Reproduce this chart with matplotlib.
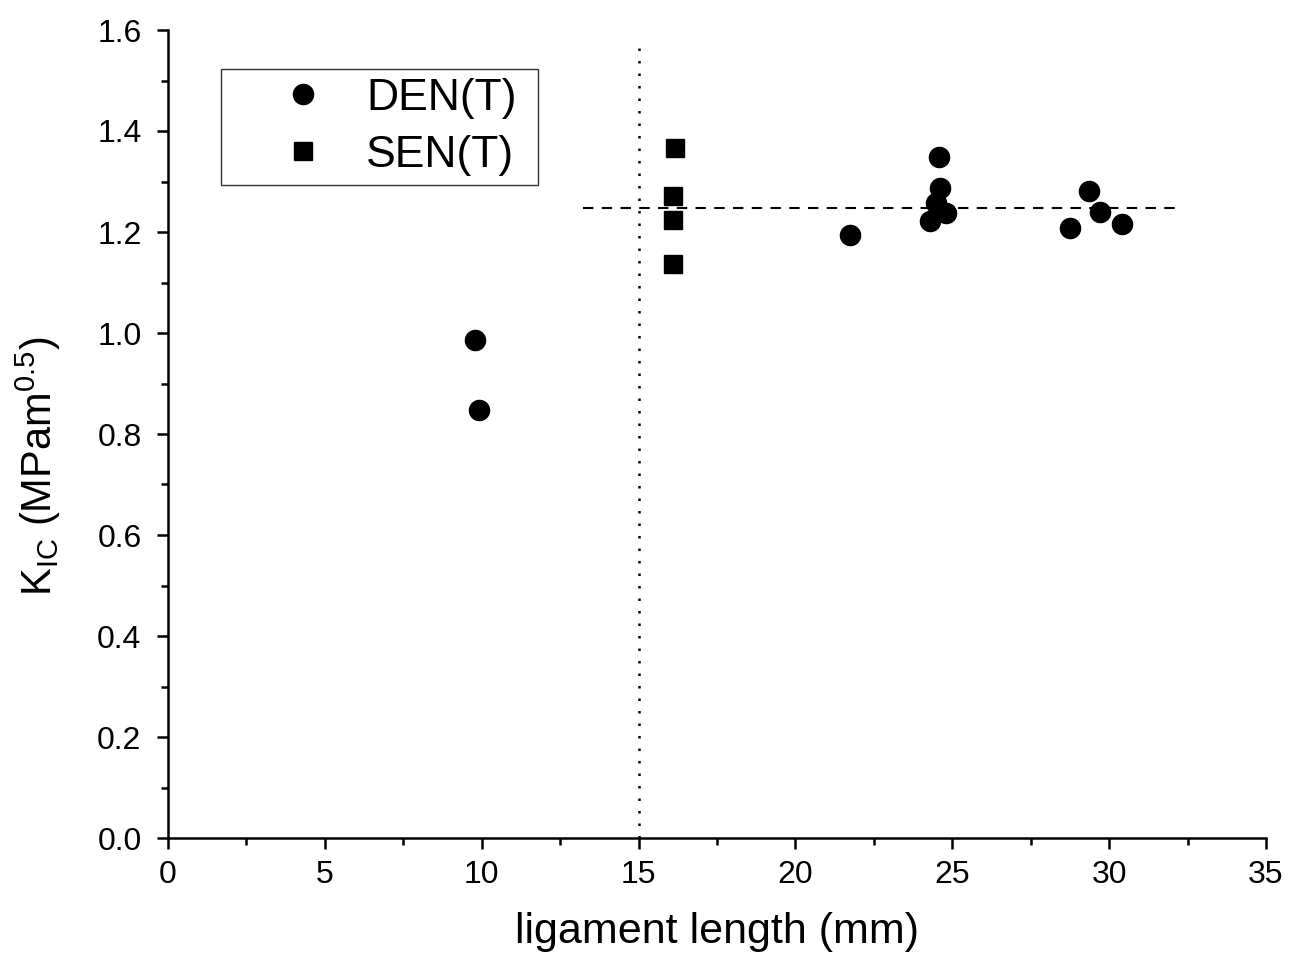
import matplotlib
matplotlib.use("Agg")
import matplotlib.pyplot as plt

plt.rcParams['font.family'] = ['Liberation Sans', 'DejaVu Sans']
plt.rcParams['mathtext.fontset'] = 'custom'
plt.rcParams['mathtext.rm'] = 'Liberation Sans'

den_x = [9.79, 9.91, 21.74, 24.58, 24.61, 24.48, 24.80, 24.29, 28.75, 29.36, 29.71, 30.41]
den_y = [0.986, 0.848, 1.194, 1.349, 1.287, 1.257, 1.238, 1.222, 1.208, 1.281, 1.240, 1.216]
sen_x = [16.15, 16.10, 16.10, 16.10]
sen_y = [1.366, 1.271, 1.224, 1.137]

mean_level = 1.248
mean_x = [13.23, 32.2]
limit_x = 15.0
limit_y = [0.0, 1.585]

fig = plt.figure(figsize=(12.89, 9.71), dpi=100)
ax = fig.add_axes([168/1289, 1-838/971, (1266-168)/1289, (838-30)/971])

ax.plot(den_x, den_y, 'o', color='black', markersize=14.5, label='DEN(T)', zorder=3)
ax.plot(sen_x, sen_y, 's', color='black', markersize=12.5, label='SEN(T)', zorder=3)
ax.plot(mean_x, [mean_level, mean_level], color='black', lw=1.5, ls=(0, (5, 4)), zorder=2)
ax.plot([limit_x, limit_x], limit_y, color='black', lw=1.8, ls=(0, (1, 4)), zorder=2)

ax.set_xlim(0, 35)
ax.set_ylim(0, 1.6)
ax.set_xticks(range(0, 36, 5))
ax.set_xticks([i * 2.5 for i in range(15)], minor=True)
ax.set_yticks([i * 0.2 for i in range(9)])
ax.set_yticks([i * 0.1 for i in range(17)], minor=True)
ax.yaxis.set_major_formatter(matplotlib.ticker.FormatStrFormatter('%.1f'))

for s in ['top', 'right']:
    ax.spines[s].set_visible(False)
for s in ['left', 'bottom']:
    ax.spines[s].set_linewidth(1.8)
ax.tick_params(which='major', direction='out', length=8, width=1.8, labelsize=23)
ax.tick_params(axis='y', which='major', pad=11)
ax.tick_params(axis='x', which='major', pad=8)
ax.tick_params(which='minor', direction='out', length=5, width=1.8)

ax.set_xlabel('ligament length (mm)', fontsize=31, labelpad=16)
ax.set_ylabel(r'K$_\mathregular{IC}$ (MPam$^\mathregular{0.5}$)', fontsize=30)
ax.yaxis.set_label_coords(-0.096, 0.46)

leg = ax.legend(loc='upper left',
                bbox_to_anchor=(221/1289, 1-69/971, 317/1289, 0), bbox_transform=fig.transFigure,
                mode='expand', fontsize=32, markerscale=1.0, frameon=True, fancybox=False,
                borderaxespad=0, handletextpad=-0.2, borderpad=0.2, labelspacing=0.36,
                handlelength=3.27)
leg.get_frame().set_edgecolor('black')
leg.get_frame().set_linewidth(1.0)

fig.savefig('out.png', dpi=100)
